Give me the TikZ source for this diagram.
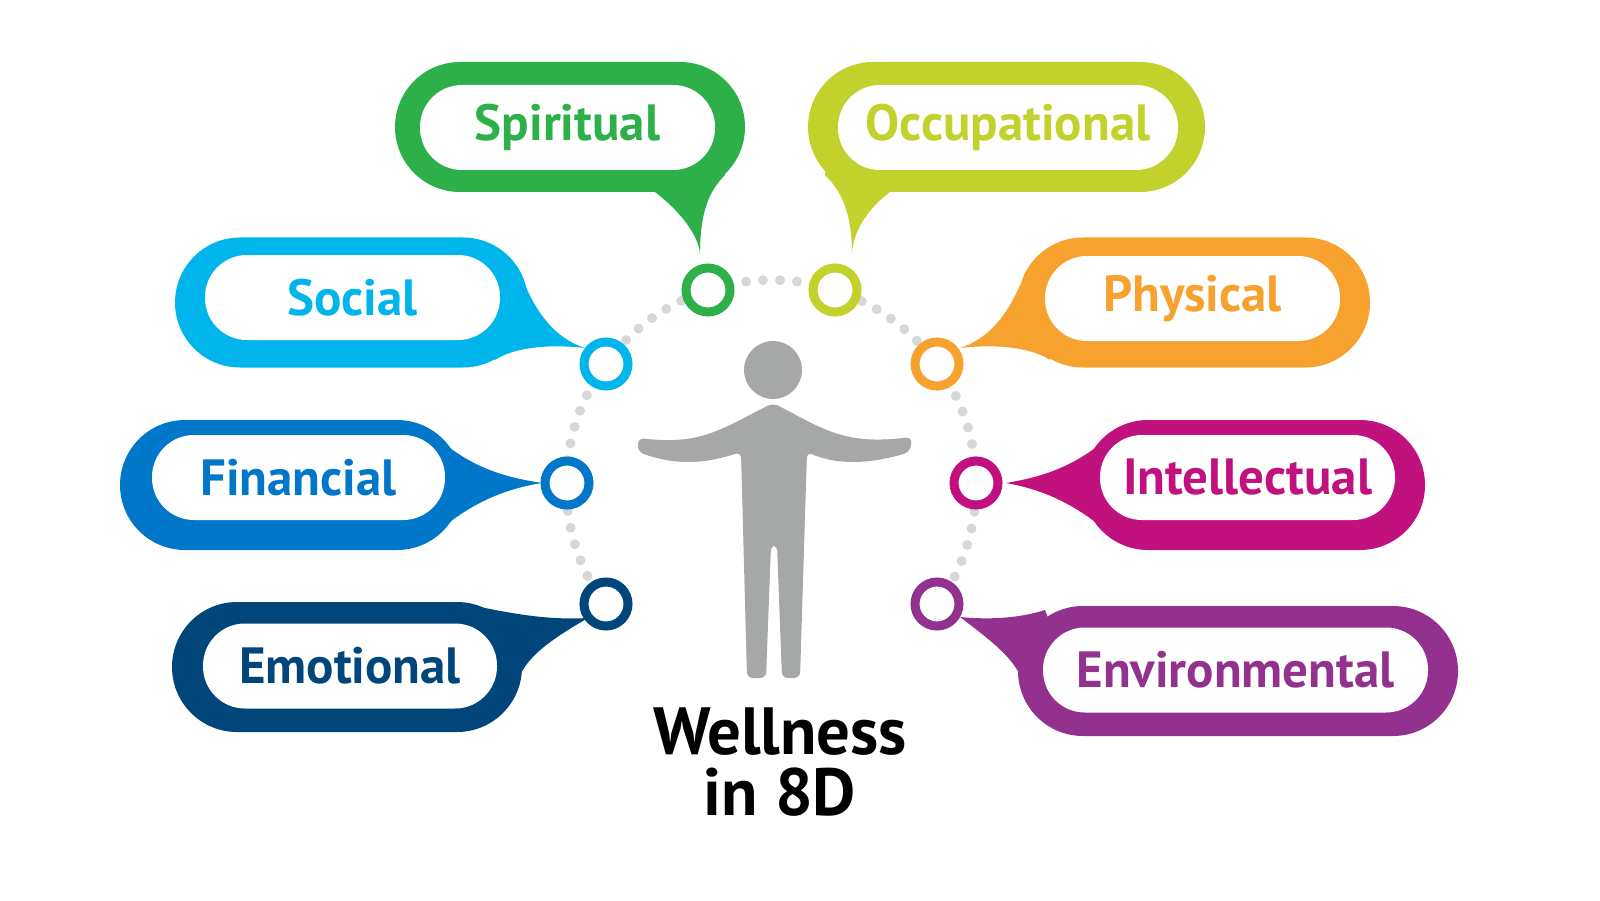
\documentclass[tikz,border=0pt]{standalone}
\usepackage{fontspec}
\setmainfont{PT Sans}
\usetikzlibrary{positioning}
\definecolor{cspi}{HTML}{2DB04A}
\definecolor{cocc}{HTML}{C2D12B}
\definecolor{csoc}{HTML}{00B5EC}
\definecolor{cphy}{HTML}{F7A12E}
\definecolor{cfin}{HTML}{0077C8}
\definecolor{cint}{HTML}{C1117E}
\definecolor{cemo}{HTML}{00467A}
\definecolor{cenv}{HTML}{93318F}
\definecolor{cman}{HTML}{A5A8A7}
\begin{document}
\begin{tikzpicture}[
    outer/.style={fill=#1, rectangle, rounded corners=0.65cm, minimum height=1.3cm, inner sep=0pt},
    inner/.style={fill=white, rectangle, rounded corners=0.42cm, minimum height=0.85cm, inner sep=0pt, text=#1, font=\bfseries\fontsize{14.5}{17}\selectfont},
    ring/.style={draw=#1, fill=white, circle, line width=0.09cm, minimum size=0.44cm, inner sep=0pt}
]
\useasboundingbox (0,0) rectangle (16,9);

% Dotted arc
\draw[cman!45, line width=0.1cm, dash pattern=on 0pt off 0.17cm, line cap=round]
    (9.37,2.945) arc (-36:216:2.05);

% Tails
\fill[cspi] (6.55,7.08) .. controls (6.85,6.85) and (7.0,6.6) .. (7.0,6.45) .. controls (7.0,6.9) and (7.1,7.1) .. (7.25,7.25) -- (7.2,7.6) -- cycle;
\fill[cocc] (8.9,7.08) .. controls (8.6,6.85) and (8.52,6.6) .. (8.52,6.45) .. controls (8.52,6.9) and (8.4,7.1) .. (8.25,7.25) -- (8.3,7.6) -- cycle;
\fill[csoc] (5.25,6.15) .. controls (5.4,5.8) and (5.6,5.6) .. (5.85,5.52) .. controls (5.4,5.57) and (5.1,5.5) .. (4.95,5.40) -- (4.9,6.0) -- cycle;
\fill[cphy] (10.2,6.15) .. controls (10.05,5.8) and (9.85,5.6) .. (9.6,5.52) .. controls (10.05,5.57) and (10.35,5.5) .. (10.5,5.40) -- (10.55,6.0) -- cycle;
\fill[cfin] (4.4,4.6) .. controls (4.75,4.3) and (5.1,4.22) .. (5.42,4.17) .. controls (5.1,4.12) and (4.75,4.0) .. (4.4,3.7) -- (4.2,4.15) -- cycle;
\fill[cint] (11.05,4.6) .. controls (10.7,4.3) and (10.35,4.22) .. (10.06,4.17) .. controls (10.35,4.12) and (10.7,4.0) .. (11.05,3.7) -- (11.25,4.15) -- cycle;
\fill[cemo] (4.8,2.93) .. controls (5.2,2.85) and (5.5,2.8) .. (5.88,2.82) .. controls (5.5,2.6) and (5.3,2.45) .. (5.2,2.25) -- (4.8,2.5) -- cycle;
\fill[cenv] (10.45,2.9) .. controls (10.2,2.82) and (9.9,2.8) .. (9.6,2.83) .. controls (9.9,2.6) and (10.1,2.45) .. (10.2,2.25) -- (10.6,2.5) -- cycle;

% Bubbles
\node[outer=cspi, minimum width=3.5cm] (spiritualbox) at (5.7,7.73) {};
\node[inner=cspi, minimum width=2.95cm] (spiritual) at (5.675,7.725) {Spiritual};
\node[outer=cocc, minimum width=3.97cm] (occupationalbox) at (10.065,7.73) {};
\node[inner=cocc, minimum width=3.4cm] (occupational) at (10.08,7.725) {Occupational};
\node[outer=csoc, minimum width=3.53cm] (socialbox) at (3.515,5.975) {};
\node[inner=csoc, minimum width=2.95cm] (social) at (3.525,6.025) {Social};
\node[outer=cphy, minimum width=3.52cm] (physicalbox) at (11.94,5.975) {};
\node[inner=cphy, minimum width=2.95cm] (physical) at (11.925,6.015) {Physical};
\node[outer=cfin, minimum width=3.42cm] (financialbox) at (2.91,4.15) {};
\node[inner=cfin, minimum width=2.93cm] (financial) at (2.985,4.225) {Financial};
\node[outer=cint, minimum width=3.42cm] (intellectualbox) at (12.54,4.15) {};
\node[inner=cint, minimum width=2.95cm] (intellectual) at (12.475,4.225) {Intellectual};
\node[outer=cemo, minimum width=3.5cm] (emotionalbox) at (3.47,2.33) {};
\node[inner=cemo, minimum width=2.94cm] (emotional) at (3.5,2.34) {Emotional};
\node[outer=cenv, minimum width=4.4cm] (environmentalbox) at (12.38,2.29) {};
\node[inner=cenv, minimum width=3.85cm] (environmental) at (12.355,2.3) {Environmental};

% Rings
\node[ring=cspi] (rspi) at (7.08,6.1) {};
\node[ring=cocc] (rocc) at (8.35,6.1) {};
\node[ring=csoc] (rsoc) at (6.06,5.36) {};
\node[ring=cphy] (rphy) at (9.37,5.36) {};
\node[ring=cfin] (rfin) at (5.67,4.17) {};
\node[ring=cint] (rint) at (9.76,4.17) {};
\node[ring=cemo] (remo) at (6.06,2.96) {};
\node[ring=cenv] (renv) at (9.37,2.96) {};

% Figure
\fill[cman] (7.73,5.3) circle (0.29);
\fill[cman, rounded corners=0.06cm] (6.38,4.62) .. controls (7.0,4.55) and (7.2,4.7) .. (7.73,4.97)
    .. controls (8.25,4.7) and (8.45,4.55) .. (9.12,4.63) -- (9.1,4.48)
    .. controls (8.6,4.33) and (8.3,4.38) .. (8.07,4.48) -- (8.0,2.22) -- (7.82,2.22)
    -- (7.77,3.55) -- (7.71,3.55) -- (7.66,2.22) -- (7.47,2.22) -- (7.41,4.48)
    .. controls (7.1,4.38) and (6.8,4.33) .. (6.38,4.48) -- cycle;

% Title
\node[font=\bfseries\fontsize{19}{17.5}\selectfont, align=center] (title) at (7.8,1.38) {Wellness\\in 8D};
\end{tikzpicture}
\end{document}
